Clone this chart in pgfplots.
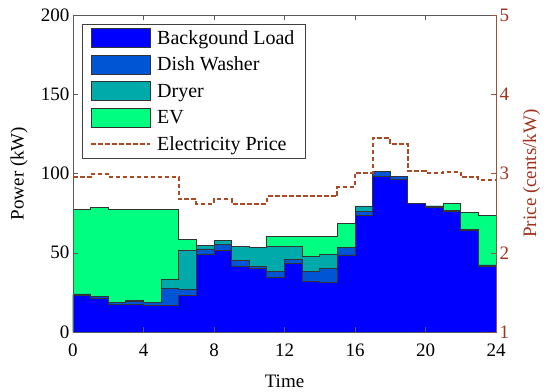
\documentclass[border=0pt]{standalone}
\usepackage{fontspec}
\setmainfont{Liberation Serif}
\usepackage{pgfplots}
\pgfplotsset{compat=1.18}
\definecolor{bgc}{RGB}{0,0,255}
\definecolor{dwc}{RGB}{0,85,212}
\definecolor{drc}{RGB}{0,170,170}
\definecolor{evc}{RGB}{0,255,128}
\definecolor{pricec}{RGB}{170,75,35}
\definecolor{raxc}{RGB}{150,85,55}
\definecolor{rlabc}{RGB}{160,50,30}
\newcommand{\ff}{\fontsize{19}{22}\selectfont}
\newcommand{\fl}{\fontsize{20}{23}\selectfont}
\begin{document}
\begin{tikzpicture}[font=\ff]
\begin{axis}[name=ax1,
  scale only axis, width=423pt, height=317pt,
  xmin=0, xmax=24, ymin=0, ymax=200,
  xtick={0,4,...,24}, ytick={0,50,...,200},
  tick align=inside, major tick length=5pt,
  axis on top,
  axis line style={black!65}, tick style={black!65},
  ytick pos=left,
  /pgf/number format/assume math mode=true,
  tick label style={font=\ff},
  label style={font=\ff},
  xlabel={Time}, ylabel={Power (kW)},
  xlabel style={at={(axis description cs:0.5,-0.1735)}, anchor=base},
  ylabel style={at={(axis description cs:-0.1277,0.5)}, anchor=center},
  xticklabel style={yshift=-8pt},
  legend style={at={(axis description cs:0,1)}, anchor=north west,
    xshift=9pt, yshift=-9pt, draw=black!75, fill=white, font=\fl,
    inner xsep=8pt, inner ysep=3.5pt, row sep=6.5pt,
    nodes={inner xsep=3pt, inner ysep=2.5pt},
    /tikz/every odd column/.append style={column sep=3pt}},
  legend cell align=left,
]
% cumulative stacks (top to bottom)
\addplot[const plot, fill=evc, draw=black!80, line width=0.8pt, forget plot] coordinates {
(0,77.4)(1,78.4)(2,77.4)(3,77.4)(4,77.4)(5,77.4)(6,58.5)(7,54.5)(8,57.8)(9,53.8)(10,53.6)(11,60.1)(12,60.1)(13,60.1)(14,60.1)(15,68.7)(16,79.5)(17,101.1)(18,98)(19,81.2)(20,79.5)(21,81.2)(22,75.3)(23,73.8)(24,73.8)} \closedcycle;
\addplot[const plot, fill=drc, draw=black!80, line width=0.8pt, forget plot] coordinates {
(0,24)(1,22.5)(2,18.7)(3,20.2)(4,18.7)(5,33)(6,51.7)(7,54.5)(8,57.8)(9,53.8)(10,53.6)(11,53.8)(12,53.8)(13,47.9)(14,49)(15,53.2)(16,79.3)(17,101.1)(18,98)(19,81.2)(20,79.5)(21,76.5)(22,64.5)(23,42.3)(24,42.3)} \closedcycle;
\addplot[const plot, fill=dwc, draw=black!80, line width=0.8pt, forget plot] coordinates {
(0,24)(1,22.5)(2,18.7)(3,19.5)(4,18.7)(5,27.5)(6,26.9)(7,52.4)(8,55)(9,45.4)(10,41.2)(11,38.1)(12,45.8)(13,38.1)(14,40.2)(15,53.2)(16,75.9)(17,101.1)(18,98)(19,81.2)(20,79.5)(21,76.5)(22,64.5)(23,42.3)(24,42.3)} \closedcycle;
\addplot[const plot, fill=bgc, draw=black!80, line width=0.8pt, forget plot] coordinates {
(0,23)(1,21.5)(2,17.5)(3,17.5)(4,17)(5,16.5)(6,23.3)(7,49)(8,51.5)(9,41.2)(10,40.2)(11,34.5)(12,43.3)(13,31.7)(14,31.3)(15,48.6)(16,73.8)(17,98)(18,96.3)(19,81.2)(20,78.7)(21,75.9)(22,63.9)(23,41.6)(24,41.6)} \closedcycle;
\addlegendimage{legend image code/.code={\draw[fill=bgc,draw=black!80,line width=0.8pt] (0pt,-9.5pt) rectangle (59pt,9.5pt);}}
\addlegendentry{Backgound Load}
\addlegendimage{legend image code/.code={\draw[fill=dwc,draw=black!80,line width=0.8pt] (0pt,-9.5pt) rectangle (59pt,9.5pt);}}
\addlegendentry{Dish Washer}
\addlegendimage{legend image code/.code={\draw[fill=drc,draw=black!80,line width=0.8pt] (0pt,-9.5pt) rectangle (59pt,9.5pt);}}
\addlegendentry{Dryer}
\addlegendimage{legend image code/.code={\draw[fill=evc,draw=black!80,line width=0.8pt] (0pt,-9.5pt) rectangle (59pt,9.5pt);}}
\addlegendentry{EV}
\addlegendimage{legend image code/.code={\draw[pricec,line width=2pt,dash pattern=on 4.5pt off 2.5pt] (0pt,0pt) -- (59pt,0pt);}}
\addlegendentry{Electricity Price}
\end{axis}
\begin{axis}[
  scale only axis, width=423pt, height=317pt,
  xmin=0, xmax=24, ymin=1, ymax=5,
  axis x line=none,
  axis y line*=right,
  ytick={1,2,3,4,5},
  tick align=inside, major tick length=5pt,
  y axis line style={raxc},
  ytick style={raxc},
  yticklabel style={font=\ff, text=rlabc},
  /pgf/number format/assume math mode=true,
  ylabel={Price (cents/kW)},
  ylabel style={font=\ff, text=rlabc, at={(axis description cs:1.084,0.5)}, anchor=center, rotate=0},
]
\addplot[const plot, pricec, line width=2pt, dash pattern=on 4.5pt off 2.5pt] coordinates {
(0,2.96)(1,3.0)(2,2.96)(3,2.96)(4,2.96)(5,2.96)(6,2.68)(7,2.62)(8,2.68)(9,2.62)(10,2.62)(11,2.71)(12,2.71)(13,2.71)(14,2.71)(15,2.83)(16,3.01)(17,3.45)(18,3.37)(19,3.03)(20,3.01)(21,3.02)(22,2.95)(23,2.92)(24,2.92)};
\end{axis}
\pgfresetboundingbox
\path ([xshift=-73pt,yshift=-59pt]ax1.south west) rectangle ([xshift=54pt,yshift=15pt]ax1.north east);
\end{tikzpicture}
\end{document}
